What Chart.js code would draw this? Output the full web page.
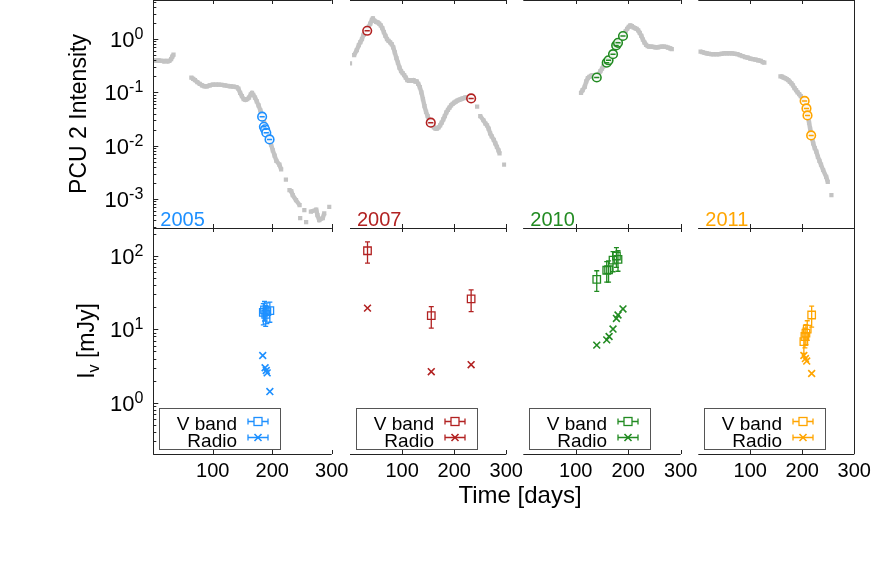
<!DOCTYPE html>
<html>
<head>
<meta charset="utf-8">
<script src="https://cdn.jsdelivr.net/npm/chart.js@4/dist/chart.umd.min.js"></script>
<style>
body { margin: 0; background: #fff; }
#wrap { position: relative; width: 872px; height: 567px; }
#wrap canvas { position: absolute; left: 0; top: 0; }
</style>
</head>
<body>
<div id="wrap"></div>
<script>
// ---- data ----
const years = ['2005', '2007', '2010', '2011'];
const yearColors = ['#1e90ff', '#b22222', '#228b22', '#ffa500'];
const timeTicks = [100, 200, 300];
const rateDecades = [-3, -2, -1, 0];
const fluxDecades = [0, 1, 2];
const legendLabels = ['V band', 'Radio'];
const axisTitles = ['PCU 2 Intensity', 'I', 'v', ' [mJy]', 'Time [days]'];

// PCU 2 light curves (grey)
const pcu2005Days = [0, 3, 6, 9, 12, 15, 18, 21, 24, 27, 30, 32, 34,
  64, 67, 70, 74, 78, 82, 86, 90, 95, 100, 105, 110, 115, 120, 125, 130, 135, 140, 143, 146, 149, 152, 155, 158, 161, 164, 166, 168, 171, 174, 177, 180, 183, 186, 189, 192, 195, 198, 201, 204,
  207, 212, 215, 223, 229, 232, 234.5, 240, 246, 247, 254, 257, 265, 274, 276, 279, 285, 287.5, 296];
const pcu2005Rate = [0.40, 0.40, 0.39, 0.40, 0.39, 0.39, 0.38, 0.39, 0.38, 0.39, 0.42, 0.47, 0.51,
  0.19, 0.18, 0.17, 0.155, 0.145, 0.135, 0.13, 0.13, 0.135, 0.14, 0.14, 0.14, 0.138, 0.135, 0.132, 0.13, 0.128, 0.125, 0.118, 0.098, 0.085, 0.075, 0.072, 0.075, 0.08, 0.092, 0.098, 0.09, 0.08, 0.068, 0.057, 0.046, 0.037, 0.029, 0.022, 0.017, 0.0135, 0.0105, 0.0082, 0.0065,
  0.0052, 0.0044, 0.0036, 0.0023, 0.00147, 0.0014, 0.00118, 0.00095, 0.00077, 0.00044, 0.00062, 0.00037, 0.00058, 0.00063, 0.0005, 0.0004, 0.00044, 0.00054, 0.00071];

const pcu2007Days = [0, 8, 13, 17, 20, 23, 26, 29, 33, 36, 39, 42, 44, 47, 50, 53, 56, 59, 62, 65, 68, 71, 74, 77, 80, 83, 86, 89, 92, 95, 98, 101, 104, 107, 110, 113, 116, 119, 122, 125, 128, 131, 134, 137, 140, 143, 146, 149, 152, 155, 158, 161, 164, 167, 170, 173, 176, 179, 182, 185, 188, 191, 194, 197, 200, 203, 206, 209, 212, 215, 218, 221, 224, 227, 230,
  244, 250, 256, 260, 263, 266, 269, 272, 276, 279, 282, 285, 287, 296];
const pcu2007Rate = [0.35, 0.50, 0.62, 0.77, 0.88, 1.0, 1.2, 1.35, 1.5, 1.7, 1.95, 2.3, 2.45, 2.2, 2.1, 2.05, 1.95, 1.8, 1.6, 1.35, 1.15, 1.0, 0.92, 0.87, 0.8, 0.7, 0.56, 0.44, 0.36, 0.29, 0.25, 0.23, 0.21, 0.19, 0.17, 0.165, 0.17, 0.165, 0.17, 0.16, 0.16, 0.145, 0.125, 0.1, 0.075, 0.055, 0.043, 0.036, 0.030, 0.026, 0.024, 0.022, 0.021, 0.021, 0.022, 0.024, 0.027, 0.031, 0.036, 0.042, 0.047, 0.052, 0.057, 0.061, 0.064, 0.067, 0.07, 0.072, 0.074, 0.076, 0.078, 0.08, 0.081, 0.08, 0.078,
  0.054, 0.036, 0.03, 0.026, 0.024, 0.021, 0.017, 0.015, 0.0128, 0.011, 0.0095, 0.0082, 0.0072, 0.0044];

const pcu2010Days = [110, 113, 117, 120, 123, 126, 129, 132, 135, 138, 141, 144, 147, 150, 153, 156, 159, 162, 165, 168, 171, 174, 177, 180, 183, 186, 189, 192, 195, 198, 201, 204, 207, 210, 213, 216, 219, 222, 225, 228, 231, 234, 237, 240, 244, 248, 252, 256, 260, 264, 268, 272, 276, 280, 283];
const pcu2010Rate = [0.098, 0.11, 0.127, 0.16, 0.185, 0.196, 0.205, 0.21, 0.205, 0.2, 0.2, 0.22, 0.25, 0.28, 0.31, 0.34, 0.37, 0.40, 0.44, 0.48, 0.53, 0.62, 0.73, 0.84, 0.93, 1.02, 1.12, 1.25, 1.4, 1.55, 1.7, 1.8, 1.75, 1.65, 1.6, 1.55, 1.45, 1.3, 1.15, 0.98, 0.86, 0.78, 0.74, 0.72, 0.72, 0.71, 0.70, 0.70, 0.71, 0.72, 0.72, 0.71, 0.69, 0.67, 0.65];

const pcu2011Days = [4, 8, 12, 16, 20, 25, 30, 35, 40, 45, 50, 55, 60, 65, 70, 75, 80, 85, 90, 95, 100, 105, 110, 115, 120, 124, 127,
  158, 161, 164, 167, 170, 173, 176, 179, 182, 185, 188, 191, 194, 197, 200, 203, 206, 209, 211, 213, 215, 217, 219, 221, 224, 227, 230, 233, 236, 240, 246, 249, 256];
const pcu2011Rate = [0.58, 0.57, 0.55, 0.54, 0.53, 0.52, 0.52, 0.52, 0.52, 0.53, 0.54, 0.54, 0.54, 0.54, 0.53, 0.52, 0.50, 0.48, 0.46, 0.45, 0.43, 0.42, 0.41, 0.40, 0.39, 0.37, 0.36,
  0.2, 0.198, 0.19, 0.185, 0.178, 0.17, 0.158, 0.148, 0.135, 0.12, 0.11, 0.1, 0.093, 0.085, 0.077, 0.07, 0.058, 0.046, 0.035, 0.027, 0.021, 0.0165, 0.0135, 0.011, 0.009, 0.0077, 0.0062, 0.0052, 0.0044, 0.0035, 0.0026, 0.0021, 0.00118];

// epochs of the optical/radio observations on the X-ray curve (coloured circles)
const obs2005Days = [183, 186, 188, 190, 195.5];
const obs2005Rate = [0.035, 0.0226, 0.0203, 0.0175, 0.0131];
const obs2007Days = [33, 155, 232.5];
const obs2007Rate = [1.43, 0.027, 0.077];
const obs2010Days = [140, 159, 162.5, 171, 177, 180.5, 190];
const obs2010Rate = [0.19, 0.36, 0.40, 0.52, 0.76, 0.85, 1.14];
const obs2011Days = [204.5, 208, 210, 217];
const obs2011Rate = [0.069, 0.050, 0.037, 0.0156];

// V band flux [mJy] with errors
const vband2005Days = [185, 187, 189, 191, 196];
const vband2005Flux = [17, 18.5, 16, 17.5, 18];
const vband2005Err = [5.5, 5.5, 5, 5.5, 5.5];
const vband2007Days = [33.6, 156, 232.5];
const vband2007Flux = [118, 15.4, 26];
const vband2007Err = [38, 5, 8.5];
const vband2010Days = [140, 159, 162.5, 171, 177.5, 180.5];
const vband2010Flux = [48, 64, 65, 88, 100, 90];
const vband2010Err = [15, 20, 21, 27, 30, 28];
const vband2011Days = [203, 205, 207, 209.5, 218];
const vband2011Flux = [6.8, 8.0, 8.9, 10.1, 15.7];
const vband2011Err = [2.1, 2.4, 2.7, 3, 5];

// radio flux [mJy]
const radio2005Days = [184, 188, 190, 191.5, 196];
const radio2005Flux = [4.4, 3.0, 2.75, 2.55, 1.42];
const radio2007Days = [33.6, 156, 232.5];
const radio2007Flux = [19.5, 2.65, 3.3];
const radio2010Days = [140, 159, 163.5, 171, 177.5, 180.5, 190];
const radio2010Flux = [6.1, 7.2, 8.0, 10.1, 14.1, 15.7, 19];
const radio2011Days = [203, 206, 208.5, 218];
const radio2011Flux = [4.4, 4.0, 3.7, 2.5];

// ---- layout ----
const W = 872, H = 567;
const FONT = '"Liberation Sans", Arial, Helvetica, sans-serif';
const GREY = '#c3c3c3';
const colEdges = [[153.3, 331.7], [350, 506.3], [523.3, 680.7], [698.3, 854.3]];
const rowEdges = [[0, 228], [228, 454]];
const rateRange = [2.86e-4, 5.4];
const fluxRange = [0.2, 241];

const pts = (xs, ys) => xs.map((x, i) => ({ x: x, y: ys[i] }));

function crisp(v) { return Math.round(v) + 0.5; }

function drawPow(ctx, right, yc, exp) {
  const e = String(exp);
  ctx.font = '16px ' + FONT;
  const ew = ctx.measureText(e).width;
  ctx.font = '22px ' + FONT;
  const bw = ctx.measureText('10').width;
  ctx.textAlign = 'left';
  ctx.textBaseline = 'alphabetic';
  ctx.fillText('10', right - ew - bw, yc + 8);
  ctx.font = '16px ' + FONT;
  ctx.fillText(e, right - ew, yc);
}

const framePlugin = {
  id: 'frame',
  afterDatasetsDraw(chart) {
    const o = chart.options.plugins.frame;
    const { ctx, chartArea: a } = chart;
    const xs = chart.scales.x, ys = chart.scales.y;
    ctx.save();

    // vertical error bars
    chart.data.datasets.forEach((ds, i) => {
      if (!ds.errors) return;
      const meta = chart.getDatasetMeta(i);
      ctx.strokeStyle = ds.borderColor;
      ctx.lineWidth = 1.3;
      meta.data.forEach((p, j) => {
        const v = ds.data[j].y, e = ds.errors[j];
        const y1 = ys.getPixelForValue(v + e), y2 = ys.getPixelForValue(v - e);
        ctx.beginPath();
        ctx.moveTo(p.x, y1); ctx.lineTo(p.x, y2);
        ctx.moveTo(p.x - 2.5, y1); ctx.lineTo(p.x + 2.5, y1);
        ctx.moveTo(p.x - 2.5, y2); ctx.lineTo(p.x + 2.5, y2);
        ctx.stroke();
      });
    });

    // frame
    ctx.strokeStyle = '#222';
    ctx.lineWidth = 1;
    ctx.beginPath();
    ctx.moveTo(a.left, crisp(a.top)); ctx.lineTo(a.right, crisp(a.top));
    ctx.moveTo(a.left, crisp(a.bottom)); ctx.lineTo(a.right, crisp(a.bottom));
    if (o.leftAxis) { ctx.moveTo(crisp(a.left), a.top); ctx.lineTo(crisp(a.left), a.bottom); }
    if (o.rightAxis) { ctx.moveTo(crisp(a.right), a.top); ctx.lineTo(crisp(a.right), a.bottom); }
    timeTicks.forEach(t => {
      const px = crisp(xs.getPixelForValue(t));
      ctx.moveTo(px, a.top); ctx.lineTo(px, a.top + 4);
      ctx.moveTo(px, a.bottom); ctx.lineTo(px, a.bottom - 4);
    });
    if (o.leftAxis) {
      const d0 = Math.floor(Math.log10(ys.min)), d1 = Math.ceil(Math.log10(ys.max));
      for (let d = d0; d <= d1; d++) {
        for (let m = 1; m <= 9; m++) {
          const v = m * Math.pow(10, d);
          if (v < ys.min || v > ys.max) continue;
          const py = crisp(ys.getPixelForValue(v));
          ctx.moveTo(a.left, py); ctx.lineTo(a.left + (m === 1 ? 5 : 3), py);
        }
      }
    }
    ctx.stroke();

    ctx.fillStyle = '#000';
    if (o.yDecades) {
      o.yDecades.forEach(d => drawPow(ctx, a.left - 10, ys.getPixelForValue(Math.pow(10, d)), d));
    }
    if (o.xLabels) {
      ctx.font = '20px ' + FONT;
      ctx.textAlign = 'center';
      ctx.textBaseline = 'alphabetic';
      timeTicks.forEach(t => ctx.fillText(String(t), xs.getPixelForValue(t), a.bottom + 23));
    }
    if (o.year) {
      ctx.font = '20px ' + FONT;
      ctx.textAlign = 'left';
      ctx.fillStyle = o.color;
      ctx.fillText(o.year, a.left + 7, a.bottom - 2);
    }
    if (o.legend) {
      const bx = Math.round(a.left) + 6, by = Math.round(a.bottom) - 46, bw = 121, bh = 41;
      ctx.fillStyle = '#fff';
      ctx.fillRect(bx, by, bw, bh);
      ctx.strokeStyle = '#555';
      ctx.lineWidth = 1;
      ctx.strokeRect(bx + 0.5, by + 0.5, bw, bh);
      ctx.fillStyle = '#000';
      ctx.font = '19px ' + FONT;
      ctx.textAlign = 'right';
      ctx.fillText(legendLabels[0], bx + 78, by + 22);
      ctx.fillText(legendLabels[1], bx + 78, by + 39);
      ctx.strokeStyle = o.color;
      ctx.lineWidth = 1.3;
      [by + 13.5, by + 29.5].forEach((ly, k) => {
        const x0 = bx + 89, x1 = bx + 109, xc = bx + 99;
        ctx.beginPath();
        ctx.moveTo(x0, ly); ctx.lineTo(x1, ly);
        ctx.moveTo(x0, ly - 3); ctx.lineTo(x0, ly + 3);
        ctx.moveTo(x1, ly - 3); ctx.lineTo(x1, ly + 3);
        ctx.stroke();
        ctx.beginPath();
        if (k === 0) {
          ctx.fillStyle = '#fff';
          ctx.fillRect(xc - 4, ly - 4, 8, 8);
          ctx.strokeRect(xc - 4, ly - 4, 8, 8);
        } else {
          ctx.lineWidth = 1.6;
          ctx.moveTo(xc - 3.5, ly - 3.5); ctx.lineTo(xc + 3.5, ly + 3.5);
          ctx.moveTo(xc - 3.5, ly + 3.5); ctx.lineTo(xc + 3.5, ly - 3.5);
          ctx.stroke();
        }
      });
    }
    if (o.titles) {
      ctx.fillStyle = '#000';
      ctx.textBaseline = 'middle';
      ctx.textAlign = 'center';
      ctx.font = '23px ' + FONT;
      ctx.save();
      ctx.translate(80, 114);
      ctx.rotate(-Math.PI / 2);
      ctx.fillText(axisTitles[0], 0, 0);
      ctx.restore();
      // I_v [mJy]
      ctx.save();
      ctx.translate(88, 341);
      ctx.rotate(-Math.PI / 2);
      ctx.font = '23px ' + FONT;
      const wI = ctx.measureText(axisTitles[1]).width;
      const wRest = ctx.measureText(axisTitles[3]).width;
      ctx.font = '16px ' + FONT;
      const wv = ctx.measureText(axisTitles[2]).width;
      let sx = -(wI + wv + wRest) / 2;
      ctx.textAlign = 'left';
      ctx.font = '23px ' + FONT;
      ctx.fillText(axisTitles[1], sx, 0);
      ctx.font = '16px ' + FONT;
      ctx.fillText(axisTitles[2], sx + wI, 7);
      ctx.font = '23px ' + FONT;
      ctx.fillText(axisTitles[3], sx + wI + wv, 0);
      ctx.restore();
      ctx.textAlign = 'center';
      ctx.font = '24px ' + FONT;
      ctx.fillText(axisTitles[4], 520, 496);
    }
    ctx.restore();
  }
};

const wrap = document.getElementById('wrap');

function makePanel(col, row, datasets, frame, yRange) {
  const canvas = document.createElement('canvas');
  canvas.width = W;
  canvas.height = H;
  wrap.appendChild(canvas);
  const [l, r] = colEdges[col];
  const [t, b] = rowEdges[row];
  new Chart(canvas, {
    type: 'scatter',
    data: { datasets: datasets },
    options: {
      responsive: false,
      animation: false,
      events: [],
      layout: { autoPadding: false, padding: { left: l, right: W - r, top: t, bottom: H - b } },
      scales: {
        x: { type: 'linear', display: false, min: 0, max: 300 },
        y: { type: 'logarithmic', display: false, min: yRange[0], max: yRange[1] }
      },
      plugins: { legend: { display: false }, tooltip: { enabled: false }, frame: frame }
    },
    plugins: [framePlugin]
  });
}

function greySet(days, rate) {
  return {
    data: pts(days, rate),
    showLine: true,
    borderColor: GREY,
    borderWidth: 4.4,
    borderJoinStyle: 'round',
    segment: {
      borderColor: c => Math.hypot(c.p1.x - c.p0.x, c.p1.y - c.p0.y) > 8 ? 'rgba(0,0,0,0)' : undefined
    },
    pointStyle: 'rect',
    pointRadius: 3,
    pointBorderWidth: 0,
    pointBackgroundColor: GREY,
    order: 3
  };
}

function circleSets(days, rate, color) {
  return [{
    data: pts(days, rate),
    pointStyle: 'line',
    pointRadius: 2.6,
    pointBorderWidth: 1.5,
    pointBorderColor: color,
    order: 0
  }, {
    data: pts(days, rate),
    pointStyle: 'circle',
    pointRadius: 4.3,
    pointBorderWidth: 1.6,
    pointBorderColor: color,
    pointBackgroundColor: 'rgba(255,255,255,0.85)',
    order: 1
  }];
}

function fluxSets(vDays, vFlux, vErr, rDays, rFlux, color) {
  return [{
    data: pts(vDays, vFlux),
    errors: vErr,
    borderColor: color,
    pointStyle: 'rect',
    pointRadius: 5.3,
    pointBorderWidth: 1.3,
    pointBorderColor: color,
    pointBackgroundColor: 'rgba(0,0,0,0)',
    order: 1
  }, {
    data: pts(rDays, rFlux),
    borderColor: color,
    pointStyle: 'crossRot',
    pointRadius: 4.8,
    pointBorderWidth: 1.6,
    pointBorderColor: color,
    order: 0
  }];
}

const pcuDays = [pcu2005Days, pcu2007Days, pcu2010Days, pcu2011Days];
const pcuRate = [pcu2005Rate, pcu2007Rate, pcu2010Rate, pcu2011Rate];
const obsDays = [obs2005Days, obs2007Days, obs2010Days, obs2011Days];
const obsRate = [obs2005Rate, obs2007Rate, obs2010Rate, obs2011Rate];
const vDays = [vband2005Days, vband2007Days, vband2010Days, vband2011Days];
const vFlux = [vband2005Flux, vband2007Flux, vband2010Flux, vband2011Flux];
const vErr = [vband2005Err, vband2007Err, vband2010Err, vband2011Err];
const rDays = [radio2005Days, radio2007Days, radio2010Days, radio2011Days];
const rFlux = [radio2005Flux, radio2007Flux, radio2010Flux, radio2011Flux];

for (let c = 0; c < 4; c++) {
  const color = yearColors[c];
  makePanel(c, 0,
    [...circleSets(obsDays[c], obsRate[c], color), greySet(pcuDays[c], pcuRate[c])],
    { leftAxis: c === 0, rightAxis: c === 3, yDecades: c === 0 ? rateDecades : null,
      year: years[c], color: color, titles: c === 0 },
    rateRange);
  makePanel(c, 1,
    fluxSets(vDays[c], vFlux[c], vErr[c], rDays[c], rFlux[c], color),
    { leftAxis: c === 0, rightAxis: c === 3, yDecades: c === 0 ? fluxDecades : null,
      xLabels: true, legend: true, color: color },
    fluxRange);
}
</script>
</body>
</html>
